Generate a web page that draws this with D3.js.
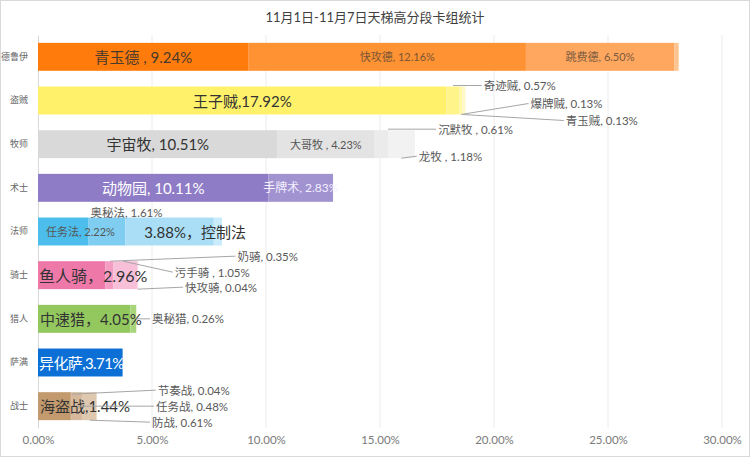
<!DOCTYPE html>
<html><head><meta charset="utf-8">
<script src="https://cdn.jsdelivr.net/npm/d3@7"></script>
<style>
body{margin:0;background:#fff;}
svg{display:block;font-family:Lato,"Noto Sans CJK SC",sans-serif;}
</style></head>
<body><svg id="c" width="750" height="457"></svg>
<script>
// ---- data ----
const title = "11月1日-11月7日天梯高分段卡组统计";
const classes = ["德鲁伊","盗贼","牧师","术士","法师","骑士","猎人","萨满","战士"];
const deckClass = ["德鲁伊","德鲁伊","德鲁伊","德鲁伊",
  "盗贼","盗贼","盗贼","盗贼",
  "牧师","牧师","牧师","牧师",
  "术士","术士",
  "法师","法师","法师","法师",
  "骑士","骑士","骑士","骑士",
  "猎人","猎人",
  "萨满",
  "战士","战士","战士","战士"];
const deckNames = ["青玉德","快攻德","跳费德","其他",
  "王子贼","奇迹贼","爆牌贼","青玉贼",
  "宇宙牧","大哥牧","沉默牧","龙牧",
  "动物园","手牌术",
  "任务法","奥秘法","控制法","其他",
  "鱼人骑","奶骑","污手骑","快攻骑",
  "中速猎","奥秘猎",
  "异化萨",
  "海盗战","节奏战","任务战","防战"];
const deckValues = [9.24,12.16,6.50,0.20,
  17.92,0.57,0.13,0.13,
  10.51,4.23,0.61,1.18,
  10.11,2.83,
  2.22,1.61,3.88,0.36,
  2.96,0.35,1.05,0.04,
  4.05,0.26,
  3.71,
  1.44,0.04,0.48,0.61];
const tickValues = [0,5,10,15,20,25,30];

// ---- styles / layout ----
const classColors = {
  "德鲁伊":["#FF7C0C","#FF9232","#FFA75E","#FFC590"],
  "盗贼":["#FFF26A","#FFF48A","#FFF6A8","#FFF9C8"],
  "牧师":["#D9D9D9","#E3E3E3","#EBEBEB","#F2F2F2"],
  "术士":["#8E7CC6","#A192D0"],
  "法师":["#4DBDEC","#7FCEF1","#A9DEF6","#C9EBFA"],
  "骑士":["#EE79A9","#F49CC2","#F8BFD9","#FAD3E5"],
  "猎人":["#93C85F","#A8D47C"],
  "萨满":["#0B6FD6"],
  "战士":["#C29A6E","#CCA986","#D6B99C","#DFC8B0"]
};
const labelLayout = {
  "青玉德":{mode:"center",size:15,color:"#4a3a2c",sep:" , "},
  "快攻德":{mode:"center",size:11,color:"#7a5535",sep:", ",dx:10},
  "跳费德":{mode:"center",size:11,color:"#7a5a40",sep:", "},
  "王子贼":{mode:"center",size:15,color:"#333",sep:","},
  "奇迹贼":{mode:"callout",tx:19.55,ty:-15,af:0.5,ay:-15},
  "爆牌贼":{mode:"callout",tx:21.6,ty:3,af:0.5,ay:14},
  "青玉贼":{mode:"callout",tx:23.15,ty:20,af:0.0,ay:14},
  "宇宙牧":{mode:"center",size:15,color:"#333",sep:", "},
  "大哥牧":{mode:"center",size:11,color:"#555",sep:" , "},
  "沉默牧":{mode:"callout",tx:17.55,ty:-15,af:1.0,ay:-15,sep:" , "},
  "龙牧":{mode:"callout",tx:16.7,ty:12,af:0.5,ay:14,sep:" , "},
  "动物园":{mode:"center",size:15,color:"#fff",sep:", "},
  "手牌术":{mode:"center",size:12,color:"#f3f0ff",sep:", "},
  "任务法":{mode:"start",off:8,size:11,color:"#555",sep:", "},
  "奥秘法":{mode:"callout",tx:2.3,ty:-19,noLine:true},
  "控制法":{mode:"start",off:19,size:15,color:"#333",reverse:true,sep:"，"},
  "鱼人骑":{mode:"start",off:1,size:16,color:"#333",sep:"，"},
  "奶骑":{mode:"callout",tx:8.75,ty:-19,af:0.6,ay:-14},
  "污手骑":{mode:"callout",tx:6.0,ty:-3,af:0.4,ay:-14,sep:" , "},
  "快攻骑":{mode:"callout",tx:6.45,ty:12,af:0.5,ay:14},
  "中速猎":{mode:"start",off:2,size:15,color:"#333",sep:"，"},
  "奥秘猎":{mode:"callout",tx:5.0,ty:0,af:1.0,ay:0},
  "异化萨":{mode:"start",off:1,size:15,color:"#fff",sep:",",ls:-0.6},
  "海盗战":{mode:"start",off:2,size:15,color:"#333",sep:","},
  "节奏战":{mode:"callout",tx:5.25,ty:-16,af:1.0,ay:-12},
  "任务战":{mode:"callout",tx:5.18,ty:0,af:0.5,ay:0},
  "防战":{mode:"callout",tx:5.0,ty:16,af:0.5,ay:14}
};

const svg = d3.select("#c");
const W = 750, H = 457;
svg.append("rect").attr("x",0.5).attr("y",0.5).attr("width",W-1).attr("height",H-1)
  .attr("fill","#fff").attr("stroke","#d9d9d9");

svg.append("text").attr("x",375).attr("y",22).attr("text-anchor","middle")
  .attr("font-size",13).attr("fill","#404040").text(title);

const x = d3.scaleLinear().domain([0,30]).range([38,722]);
const y = d3.scaleBand().domain(classes).range([35,428]).paddingInner(0.36).paddingOuter(0.18);

// gridlines
svg.append("g").selectAll("line").data(tickValues.slice(1)).join("line")
  .attr("x1",d=>x(d)).attr("x2",d=>x(d)).attr("y1",35).attr("y2",428)
  .attr("stroke","#ececec").attr("stroke-width",1);

// x axis labels
const xAxis = d3.axisBottom(x).tickValues(tickValues).tickSize(0).tickPadding(0)
  .tickFormat(d=>d3.format(".2f")(d)+"%");
const gx = svg.append("g").attr("transform","translate(0,436)").call(xAxis);
gx.select(".domain").remove();
gx.selectAll("text").attr("font-size",11.5).attr("fill","#7a7a7a")
  .attr("font-family","Lato,sans-serif");

// y axis
const yAxis = d3.axisLeft(y).tickSize(0).tickPadding(10);
const gy = svg.append("g").attr("transform","translate(38,0)").call(yAxis);
gy.select(".domain").attr("stroke","#d9d9d9");
gy.selectAll("text").attr("font-size",9).attr("fill","#666")
  .attr("font-family","\"Noto Sans CJK SC\",sans-serif");

// build segments
const segs = [];
const cum = {};
const idxInClass = {};
deckNames.forEach((name,i)=>{
  const c = deckClass[i];
  const x0 = cum[c]||0;
  const k = idxInClass[c]||0;
  segs.push({cls:c,name:name,value:deckValues[i],x0:x0,x1:x0+deckValues[i],k:k});
  cum[c] = x0+deckValues[i];
  idxInClass[c] = k+1;
});

svg.append("g").selectAll("rect").data(segs).join("rect")
  .attr("x",d=>x(d.x0)).attr("width",d=>x(d.x1)-x(d.x0))
  .attr("y",d=>y(d.cls)).attr("height",y.bandwidth())
  .attr("fill",d=>{const cs=classColors[d.cls];return cs[Math.min(d.k,cs.length-1)];});

// labels
const fmt = d=>d.value.toFixed(2)+"%";
const lg = svg.append("g");
segs.forEach(d=>{
  const L = labelLayout[d.name];
  if(!L) return;
  const cy = y(d.cls)+y.bandwidth()/2;
  const sep = L.sep||", ";
  const txt = L.reverse ? fmt(d)+sep+d.name : d.name+sep+fmt(d);
  if(L.mode==="center"){
    lg.append("text").attr("x",(x(d.x0)+x(d.x1))/2+(L.dx||0)).attr("y",cy)
      .attr("text-anchor","middle").attr("dominant-baseline","central")
      .attr("font-size",L.size).attr("fill",L.color).text(txt);
  } else if(L.mode==="start"){
    lg.append("text").attr("x",x(d.x0)+L.off).attr("y",cy)
      .attr("text-anchor","start").attr("dominant-baseline","central")
      .attr("letter-spacing",L.ls||0)
      .attr("font-size",L.size).attr("fill",L.color).text(txt);
  } else {
    const tx = x(L.tx), ty = cy+L.ty;
    if(!L.noLine){
      const ax = x(d.x0)+(x(d.x1)-x(d.x0))*L.af, ay = cy+L.ay;
      lg.append("line").attr("x1",ax).attr("y1",ay).attr("x2",tx-2).attr("y2",ty)
        .attr("stroke","#a6a6a6").attr("stroke-width",1);
    }
    lg.append("text").attr("x",tx).attr("y",ty)
      .attr("text-anchor","start").attr("dominant-baseline","central")
      .attr("font-size",11.5).attr("fill","#595959").text(txt);
  }
});
</script></body></html>
